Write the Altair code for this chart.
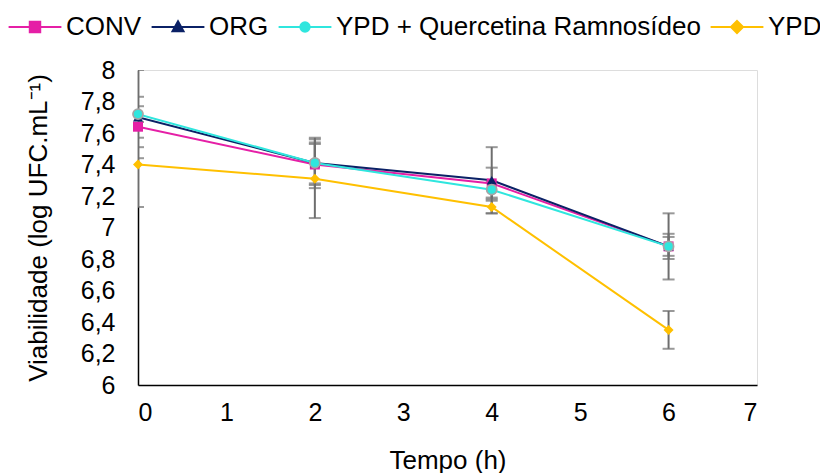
import altair as alt
import pandas as pd

series = ["CONV", "ORG", "YPD + Quercetina Ramnosídeo", "YPD"]
times = [0, 2, 4, 6]
conv = [7.64, 7.40, 7.28, 6.88]
org = [7.70, 7.41, 7.30, 6.88]
qr = [7.72, 7.41, 7.24, 6.88]
ypd = [7.40, 7.31, 7.13, 6.35]
err_conv = [0.13, 0.13, 0.10, 0.06]
err_org = [0.13, 0.13, 0.21, 0.21]
err_qr = [0.28, 0.16, 0.05, 0.08]
err_ypd = [0.27, 0.25, 0.04, 0.12]
y_ticks = [6.0, 6.2, 6.4, 6.6, 6.8, 7.0, 7.2, 7.4, 7.6, 7.8, 8.0]
x_ticks = [0, 1, 2, 3, 4, 5, 6, 7]

colors = ["#E51FA6", "#0B2166", "#2FE6DE", "#FFC000"]
plot_shapes = ["square", "triangle-up", "circle", "diamond"]
outline = [None, None, "#A6A6A6", None]
legend_shapes = [
    "M-4.8,0L4.8,0M-0.95,-0.95L0.95,-0.95L0.95,0.95L-0.95,0.95Z",
    "M-4.8,0L4.8,0M0,-1.05L1,0.75L-1,0.75Z",
    "M-4.8,0L4.8,0M0.85,0A0.85,0.85 0 1,1 -0.85,0A0.85,0.85 0 1,1 0.85,0Z",
    "M-4.8,0L4.8,0M0,-1.1L1.1,0L0,1.1L-1.1,0Z",
]

rows = []
for name, vals, errs in zip(series, [conv, org, qr, ypd], [err_conv, err_org, err_qr, err_ypd]):
    for t, v, e in zip(times, vals, errs):
        rows.append({"series": name, "t": t, "v": v, "lo": v - e, "hi": v + e})
df = pd.DataFrame(rows)

FONT = "Liberation Sans"
xs = alt.Scale(domain=[0, 7], nice=False)
ys = alt.Scale(domain=[6, 8], nice=False, zero=False)

x_axis = alt.Axis(values=x_ticks, title="Tempo (h)", labelFontSize=25, labelFont=FONT,
                  labelColor="black", titleFontSize=26, titleFont=FONT, titleFontWeight="normal",
                  titleColor="black", ticks=False, grid=False, domainColor="black", domainWidth=1.5,
                  labelPadding=15, titlePadding=22)
y_axis = alt.Axis(values=y_ticks, title="Viabilidade (log UFC.mL⁻¹)",
                  labelExpr="replace(format(datum.value, '.1~f'), '.', ',')",
                  labelFontSize=25, labelFont=FONT, labelColor="black", titleFontSize=26,
                  titleFont=FONT, titleFontWeight="normal", titleColor="black", ticks=False,
                  grid=False, domainColor="black", domainWidth=1.5, labelPadding=23, titlePadding=29)

legend = alt.Legend(title=None, orient="none", legendX=-116, legendY=-56, padding=0,
                    direction="horizontal", labelFontSize=26, labelFont=FONT,
                    labelColor="black", labelOffset=18, columnPadding=5,
                    symbolSize=121, symbolStrokeWidth=2, symbolOpacity=1, labelLimit=0)


def X():
    return alt.X("t:Q", scale=xs, axis=x_axis)


def Y(field):
    return alt.Y(field, scale=ys, axis=y_axis)


base = alt.Chart(df)
ERR = "#6E6E6E"

rules = base.mark_rule(color=ERR, strokeWidth=2, clip=True).encode(
    x=X(), y=Y("lo:Q"), y2="hi:Q")
cap_lo = base.mark_tick(color=ERR, thickness=2, size=12, orient="horizontal", clip=True).encode(
    x=X(), y=Y("lo:Q"))
cap_hi = base.mark_tick(color=ERR, thickness=2, size=12, orient="horizontal", clip=True).encode(
    x=X(), y=Y("hi:Q"))

line_layers = []
point_layers = []
for name, col, shp, ol in zip(series, colors, plot_shapes, outline):
    sub = base.transform_filter(alt.datum.series == name)
    line_layers.append(sub.mark_line(strokeWidth=2, color=col, clip=True).encode(x=X(), y=Y("v:Q")))
    kw = dict(filled=True, size=100, opacity=1, color=col, shape=shp)
    if ol:
        kw.update(stroke=ol, strokeWidth=1.8)
    point_layers.append(sub.mark_point(**kw).encode(x=X(), y=Y("v:Q")))

# legend-only layer (draws no rows): line + marker symbols per series
legend_layer = base.transform_filter("false").mark_point(strokeWidth=2, opacity=1).encode(
    x=X(), y=Y("v:Q"),
    stroke=alt.Stroke("series:N", scale=alt.Scale(domain=series, range=colors), legend=legend),
    fill=alt.Fill("series:N", scale=alt.Scale(domain=series, range=colors), legend=legend),
    shape=alt.Shape("series:N", scale=alt.Scale(domain=series, range=legend_shapes), legend=legend),
)

chart = alt.layer(rules, cap_lo, cap_hi, *line_layers, *point_layers, legend_layer).properties(
    width=619, height=315,
    autosize=alt.AutoSizeParams(type="none"),
    padding={"left": 130, "top": 62, "right": 63, "bottom": 100},
).configure_view(stroke="transparent", strokeWidth=0).configure(background="white")

chart.save("out.html", embed_options={"renderer": "svg", "actions": False})
